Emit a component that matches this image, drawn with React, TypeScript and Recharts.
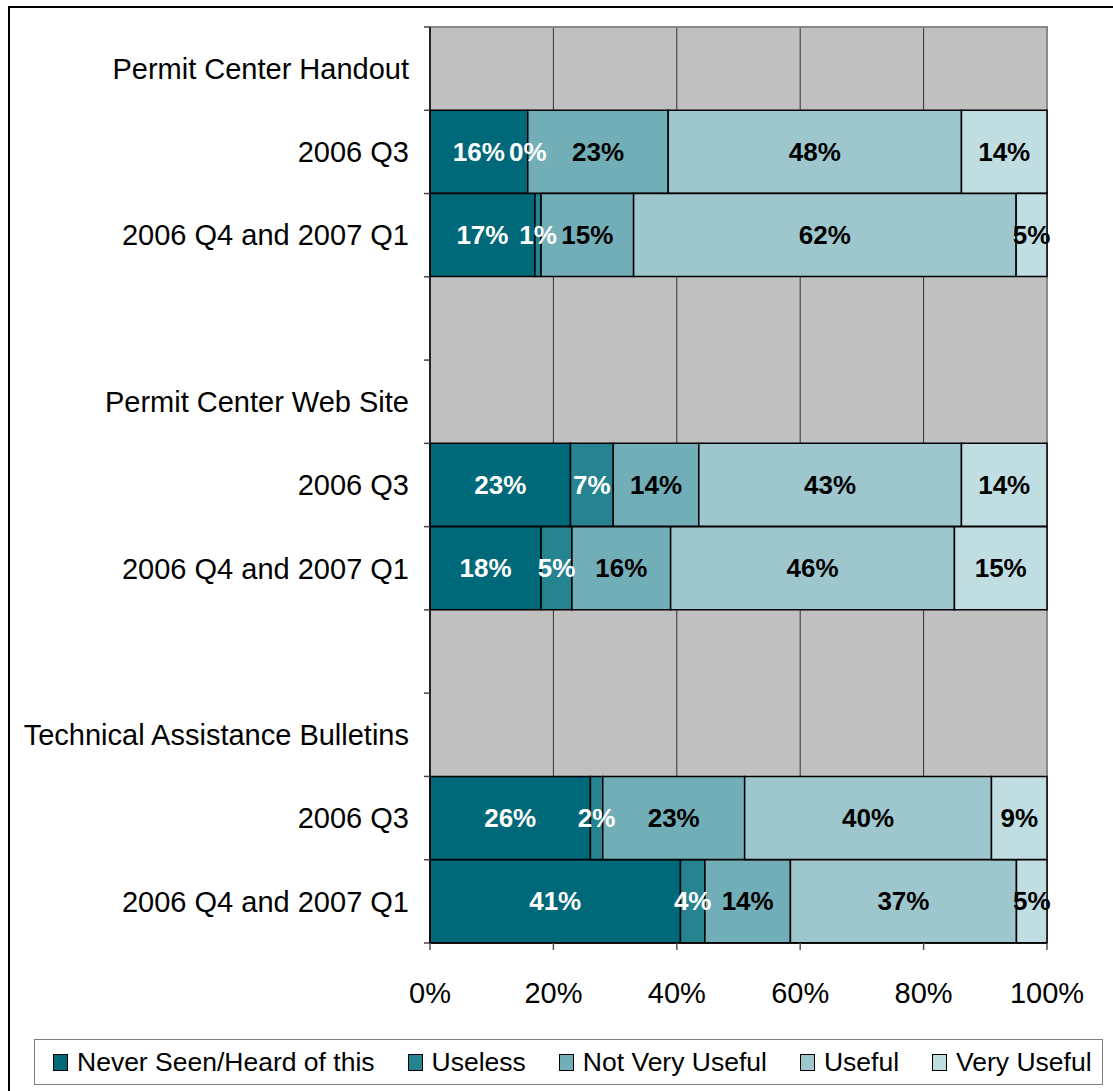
import React from 'react';
import { BarChart, Bar, XAxis, YAxis, CartesianGrid, ReferenceArea, LabelList } from 'recharts';

// row labels, top to bottom (empty strings are spacer rows)
const rowLabels = [
  'Permit Center Handout',
  '2006 Q3',
  '2006 Q4 and 2007 Q1',
  '',
  'Permit Center Web Site',
  '2006 Q3',
  '2006 Q4 and 2007 Q1',
  '',
  'Technical Assistance Bulletins',
  '2006 Q3',
  '2006 Q4 and 2007 Q1',
];

// percentages per answer (null = header / spacer row)
const neverSeen = [null, 16, 17, null, null, 23, 18, null, null, 26, 41];
const useless = [null, 0, 1, null, null, 7, 5, null, null, 2, 4];
const notVeryUseful = [null, 23, 15, null, null, 14, 16, null, null, 23, 14];
const useful = [null, 48, 62, null, null, 43, 46, null, null, 40, 37];
const veryUseful = [null, 14, 5, null, null, 14, 15, null, null, 9, 5];

const xTicks = [0, 0.2, 0.4, 0.6, 0.8, 1];

const SERIES = [
  { key: 'never', name: 'Never Seen/Heard of this', values: neverSeen, color: '#006979', label: '#fff' },
  { key: 'useless', name: 'Useless', values: useless, color: '#268390', label: '#fff' },
  { key: 'notVery', name: 'Not Very Useful', values: notVeryUseful, color: '#72AEB7', label: '#000' },
  { key: 'useful', name: 'Useful', values: useful, color: '#9DC7CD', label: '#000' },
  { key: 'very', name: 'Very Useful', values: veryUseful, color: '#C0DDE1', label: '#000' },
];

const data = rowLabels.map((_, i) => {
  const row: any = { idx: i };
  SERIES.forEach(s => { row[s.key] = s.values[i]; });
  return row;
});

const FONT = '"Liberation Sans", Arial, sans-serif';
const W = 1113;
const H = 1091;
const TOP = 27;
const BOTTOM = 943;
const BAND = (BOTTOM - TOP) / rowLabels.length;

const YTick = (props: any) => {
  const { x, y, payload, index } = props;
  const label = rowLabels[payload.value] || '';
  const last = index === rowLabels.length - 1;
  return (
    <g>
      <line x1={424} x2={430} y1={y - BAND / 2} y2={y - BAND / 2} stroke="#444" strokeWidth={1.5} />
      {last && <line x1={424} x2={430} y1={y + BAND / 2} y2={y + BAND / 2} stroke="#444" strokeWidth={1.5} />}
      <text x={x - 13} y={y} dy="0.355em" textAnchor="end" fontSize={29} fontFamily={FONT} fill="#000">
        {label}
      </text>
    </g>
  );
};

// Useless segments can be 0 wide, and recharts drops their labels,
// so they are drawn from the "Not Very Useful" bar's left edge instead.
const UselessLabel = (props: any) => {
  const { x, y, width, height, value } = props;
  const i = value as number;
  const u = useless[i];
  const nv = notVeryUseful[i];
  if (u == null || nv == null || !nv) return null;
  const cx = x - (u * width) / nv / 2;
  return (
    <text x={cx} y={y + height / 2} dy="0.355em" textAnchor="middle" fill="#fff"
      fontSize={26} fontWeight="bold" fontFamily={FONT}>
      {`${u}%`}
    </text>
  );
};

export default function App() {
  return (
    <div style={{ position: 'absolute', left: 0, top: 0, width: W, height: H, overflow: 'hidden', background: '#fff' }}>
      <div style={{ position: 'absolute', left: 8, top: 6, width: 1300, height: 1300, border: '2px solid #000' }} />
      <div style={{ position: 'absolute', left: 0, top: 0 }}>
        <BarChart
          width={W}
          height={H}
          data={data}
          layout="vertical"
          stackOffset="expand"
          barCategoryGap={0}
          margin={{ top: TOP, right: W - 1047, bottom: H - BOTTOM - 60, left: 10 }}
        >
          <CartesianGrid vertical horizontal={false} stroke="#333" fill="#C0C0C0" fillOpacity={1} />
          <ReferenceArea x1={0} x2={1} fill="none" stroke="#888" strokeWidth={2} />
          <XAxis
            type="number"
            domain={[0, 1]}
            ticks={xTicks}
            tickFormatter={(v: number) => `${Math.round(v * 100)}%`}
            axisLine={{ stroke: '#000', strokeWidth: 1.5 }}
            tickLine={{ stroke: '#555', strokeWidth: 1.5 }}
            tickSize={7}
            tickMargin={32}
            height={60}
            tick={{ fontSize: 29, fontFamily: FONT, fill: '#000' }}
          />
          <YAxis
            type="category"
            dataKey="idx"
            width={420}
            interval={0}
            axisLine={{ stroke: '#000', strokeWidth: 1.5 }}
            tickLine={false}
            tick={<YTick />}
          />
          {SERIES.map(s => (
            <Bar
              key={s.key}
              dataKey={s.key}
              name={s.name}
              stackId="a"
              fill={s.color}
              stroke="#000"
              strokeWidth={1.5}
              isAnimationActive={false}
            >
              {s.key !== 'useless' && (
                <LabelList
                  dataKey={s.key}
                  position="center"
                  formatter={(v: any) => (v == null ? '' : `${v}%`)}
                  fill={s.label}
                  fontSize={26}
                  fontWeight="bold"
                  fontFamily={FONT}
                />
              )}
              {s.key === 'notVery' && <LabelList dataKey="idx" content={<UselessLabel />} />}
            </Bar>
          ))}
        </BarChart>
      </div>
      <div
        style={{
          position: 'absolute',
          left: 34,
          top: 1039,
          width: 1069,
          height: 46,
          border: '1.5px solid #808080',
          boxSizing: 'border-box',
          display: 'flex',
          alignItems: 'center',
          paddingLeft: 18,
          gap: 33,
          fontFamily: FONT,
          fontSize: 26.5,
          color: '#000',
          whiteSpace: 'nowrap',
        }}
      >
        {SERIES.map(s => (
          <div key={s.key} style={{ display: 'flex', alignItems: 'center' }}>
            <span
              style={{
                display: 'inline-block',
                width: 13,
                height: 15,
                background: s.color,
                border: '1.5px solid #000',
                marginRight: 9,
              }}
            />
            <span>{s.name}</span>
          </div>
        ))}
      </div>
    </div>
  );
}
